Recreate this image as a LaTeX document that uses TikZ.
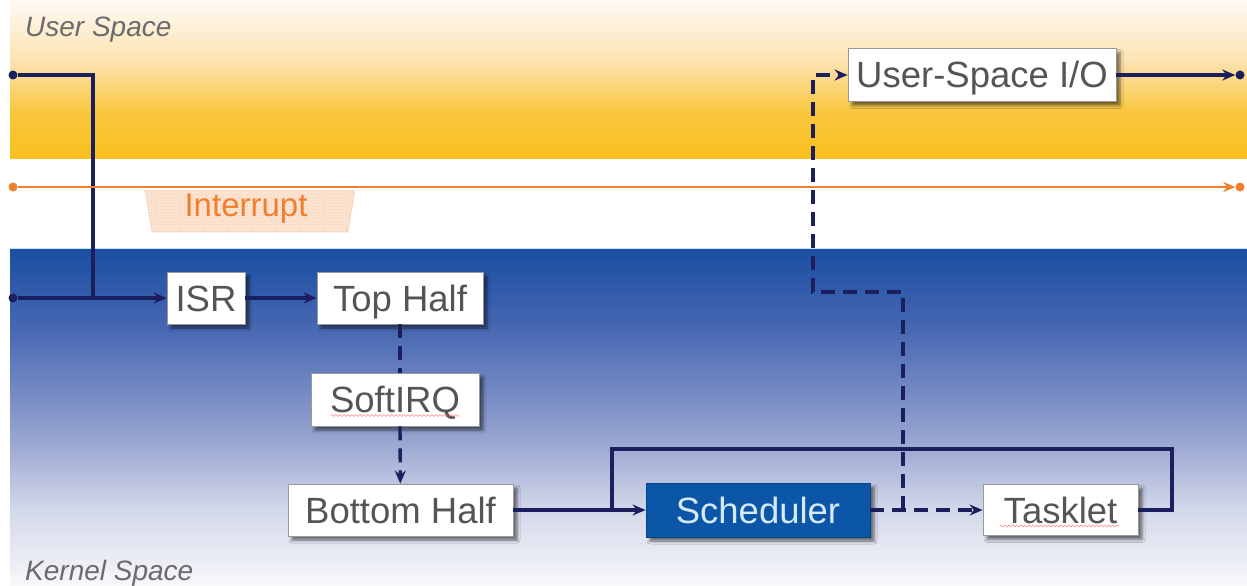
\documentclass[tikz,border=0pt]{standalone}
\usepackage{fontspec}
\setmainfont{Liberation Sans}
\usetikzlibrary{arrows.meta,shadows.blur,patterns,decorations.pathmorphing,calc}

\definecolor{navy}{HTML}{1B1F5E}
\definecolor{irq}{HTML}{F07E2C}
\definecolor{irqfill}{HTML}{FCE6D6}
\definecolor{boxtext}{HTML}{555555}
\definecolor{schedfill}{HTML}{0B56A6}
\definecolor{schedtext}{HTML}{D6E9FA}
\definecolor{labelgray}{HTML}{6B6B6B}
\definecolor{yA}{HTML}{FFFAF4}
\definecolor{yB}{HTML}{FCE3B2}
\definecolor{yC}{HTML}{F9C73E}
\definecolor{yD}{HTML}{F8BF1E}
\definecolor{bA}{HTML}{1A4EA1}
\definecolor{bB}{HTML}{4868B3}
\definecolor{bC}{HTML}{98A5D0}
\definecolor{bD}{HTML}{D3D8EA}
\definecolor{bE}{HTML}{F8F8FB}

\tikzset{
  stagebox/.style={draw=black!40, line width=0.8pt, fill=white, text=boxtext,
    inner sep=0pt, text height=26pt, text depth=0pt,
    font=\fontsize{36.5}{40}\selectfont,
    blur shadow={shadow xshift=4pt, shadow yshift=-4pt,
      shadow blur radius=3pt, shadow opacity=55}},
  schedbox/.style={stagebox, fill=schedfill, draw=schedfill!80!black, text=schedtext},
  navydot/.style={circle, fill=navy, inner sep=0pt, minimum size=9pt},
  irqdot/.style={circle, fill=irq, inner sep=0pt, minimum size=9pt},
  flow/.style={draw=navy, line width=3.4pt},
  tip/.style={-{Stealth[length=13pt,width=11pt]}},
  flowarrow/.style={flow, tip},
  flowdash/.style={flow, dash pattern=on 14pt off 8pt},
  spacelabel/.style={text=labelgray, font=\fontsize{28}{32}\selectfont\itshape,
    inner sep=0pt, anchor=base west},
  spellmark/.style={draw=red!70, opacity=0.55, line width=0.7pt,
    decorate, decoration={snake, amplitude=0.9pt, segment length=4pt}}
}

\begin{document}
\begin{tikzpicture}[x=1pt, y=-1pt]
  \useasboundingbox (0,0) rectangle (1247,586);

  % user space band
  \fill[top color=yA, bottom color=yB] (10,0) rectangle (1247,60);
  \fill[top color=yB, bottom color=yC] (10,60) rectangle (1247,112);
  \fill[top color=yC, bottom color=yD] (10,112) rectangle (1247,158);

  % kernel space band
  \fill[top color=bA, bottom color=bB] (10,248) rectangle (1247,330);
  \fill[top color=bB, bottom color=bC] (10,330) rectangle (1247,440);
  \fill[top color=bC, bottom color=bD] (10,440) rectangle (1247,510);
  \fill[top color=bD, bottom color=bE] (10,510) rectangle (1247,586);
  \draw[cyan!25, line width=1pt] (10,248) -- (1247,248);

  % region labels
  \node[spacelabel] (userlbl) at (25,37) {User Space};
  \node[spacelabel] (kernlbl) at (25,580) {Kernel Space};

  % interrupt tag
  \fill[irqfill] (145,190) -- (355,190) -- (348,232) -- (152,232) -- cycle;
  \fill[pattern=crosshatch dots, pattern color=irq!45] (145,190) -- (355,190) -- (348,232) -- (152,232) -- cycle;
  \draw[irq!60, line width=0.6pt, densely dotted] (145,190) -- (152,232) -- (348,232) -- (355,190);
  \node[text=irq, font=\fontsize{33}{36}\selectfont, inner sep=0pt] (irqlbl) at (246,209) {Interrupt};

  % end points
  \node[navydot] (uin) at (13,75) {};
  \node[navydot] (kin) at (13,298) {};
  \node[navydot] (uout) at (1240,75) {};
  \node[irqdot] (iin) at (13,187) {};
  \node[irqdot] (iout) at (1240,187) {};

  % processing stages
  \node[stagebox, minimum width=78pt, minimum height=52pt] (isr) at (206,298) {ISR};
  \node[stagebox, minimum width=166pt, minimum height=52pt] (tophalf) at (400,298) {Top Half};
  \node[stagebox, minimum width=168pt, minimum height=53pt] (softirq) at (395,399.5) {SoftIRQ};
  \node[stagebox, minimum width=225pt, minimum height=52pt] (bothalf) at (400.5,510) {Bottom Half};
  \node[schedbox, minimum width=224pt, minimum height=54pt] (sched) at (758,510) {Scheduler};
  \node[stagebox, minimum width=155pt, minimum height=51pt] (tasklet) at (1060.5,510) {Tasklet};
  \node[stagebox, minimum width=268pt, minimum height=53pt] (usio) at (982,75) {User-Space I/O};

  % spell-check marks under two labels
  \draw[spellmark] ($(softirq.west)+(20,16)$) -- ($(softirq.east)+(-20,16)$);
  \draw[spellmark] ($(tasklet.west)+(17,16)$) -- ($(tasklet.east)+(-19,16)$);

  % routing points
  \coordinate (ujoin) at (93,298);
  \coordinate (loopL) at (612,510);
  \coordinate (loopTL) at (612,449);
  \coordinate (loopTR) at (1172,449);
  \coordinate (loopR) at (1172,510);
  \coordinate (fork) at (903,510);
  \coordinate (upA) at (903,292);
  \coordinate (upB) at (813,292);
  \coordinate (upC) at (813,75);

  % solid connectors
  \draw[flow] (uin) -| (ujoin);
  \draw[flowarrow] (kin) -- (isr);
  \draw[flowarrow] (isr) -- (tophalf);
  \draw[flowarrow] (bothalf) -- (sched);
  \draw[flow] (tasklet.east) -- (loopR) -- (loopTR) -- (loopTL) -- (loopL);
  \draw[flowarrow] (usio) -- (uout);

  % deferred (dashed) connectors
  \draw[flowdash] (tophalf) -- (softirq.north -| tophalf.south);
  \draw[flowdash, tip] (softirq.south -| tophalf.south) -- (bothalf);
  \draw[flowdash, tip] (sched) -- (tasklet);
  \draw[flowdash, tip] (fork) -- (upA) -- (upB) -- (upC) -- (usio);

  % interrupt line
  \draw[draw=irq, line width=2.6pt, -{Stealth[length=12pt,width=10pt]}] (iin) -- (iout);
\end{tikzpicture}
\end{document}
